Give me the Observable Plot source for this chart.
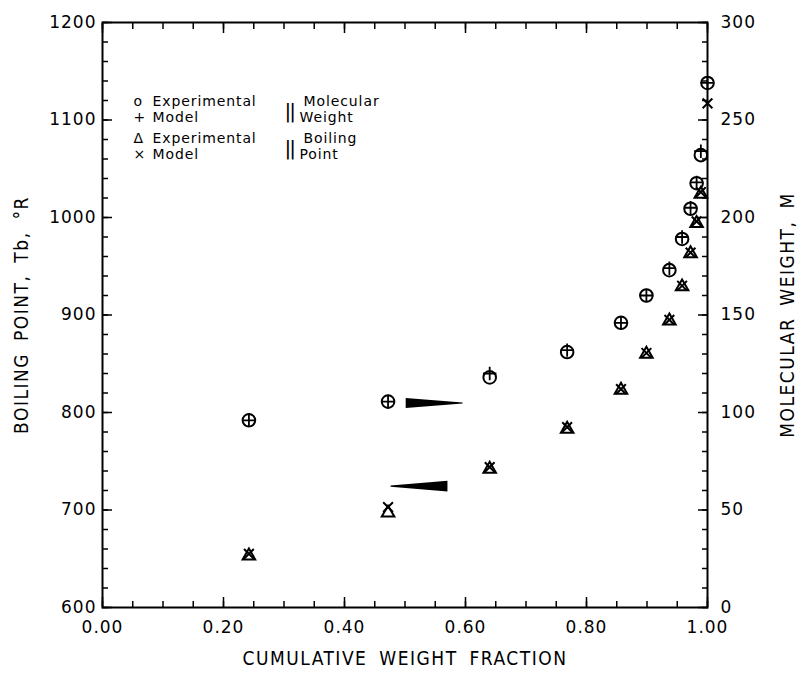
<!DOCTYPE html>
<html><head><meta charset="utf-8">
<script src="https://cdn.jsdelivr.net/npm/d3@7"></script>
<script src="https://cdn.jsdelivr.net/npm/@observablehq/plot@0.6"></script>
<style>
body{margin:0;background:#fff;}
#chart svg{font-family:"DejaVu Sans",sans-serif;color:#000;}
#chart g[aria-label$="tick label"] text{font-size:17px;letter-spacing:1px;}
#chart g[aria-label$="axis label"] text{font-family:"Liberation Sans Narrow","DejaVu Sans Condensed","DejaVu Sans",sans-serif;font-stretch:condensed;font-size:19px;letter-spacing:1.5px;word-spacing:5px;}
#chart .legend text{font-size:14px;letter-spacing:0.9px;}
#chart .bars text{font-size:20px;letter-spacing:-2px;}
</style></head><body><div id="chart"></div>
<script>
// cumulative weight fraction of each cut
const fraction = [0.242, 0.472, 0.640, 0.768, 0.857, 0.899, 0.937, 0.958, 0.972, 0.982, 0.989, 1.000];
// molecular weight (right axis)
const mwExp   = [96, 105.6, 118, 131, 146, 160, 173, 189, 204.5, 217.6, 232, 269];
const mwModel = [96, 105.6, 120, 132, 146, 160, 174, 190, 205, 218, 234, 269];
// boiling point, °R (left axis)
const bpExp   = [653, 697, 742, 783, 823, 860, 894, 929, 963, 994, 1024, null];
const bpModel = [655, 703, 744, 785, 824, 861, 895, 930, 964, 996, 1026, 1117];

const xMajor = [0, 0.2, 0.4, 0.6, 0.8, 1.0];
const xMinor = d3.range(0, 21).map(i => i / 20);
const bpMajor = [600, 700, 800, 900, 1000, 1100, 1200];
const bpMinor = d3.range(600, 1201, 20);
const mwMajor = [0, 50, 100, 150, 200, 250, 300];

// wedge arrows (annotation)
const arrowMwX = [0.502, 0.596], arrowMwY = 104.6, arrowMwHalf = [2.6, 0.3];
const arrowBpX = [0.477, 0.571], arrowBpY = 724, arrowBpHalf = [0.6, 5.6];

const legendSym = ["o", "+", "Δ", "×"];
const legendLab = ["Experimental", "Model", "Experimental", "Model"];
const legendRight = ["Molecular", "Weight", "Boiling", "Point"];

const mw2bp = m => 600 + 2 * m;   // right axis 0..300 maps onto 600..1200

const mwExpData = fraction.map((f, i) => ({x: f, y: mw2bp(mwExp[i])}));
const mwModData = fraction.map((f, i) => ({x: f, y: mw2bp(mwModel[i])}));
const bpExpData = fraction.map((f, i) => ({x: f, y: bpExp[i]})).filter(d => d.y != null);
const bpModData = fraction.map((f, i) => ({x: f, y: bpModel[i]}));
const arrowMw = arrowMwX.map((x, i) => ({x, lo: mw2bp(arrowMwY - arrowMwHalf[i]), hi: mw2bp(arrowMwY + arrowMwHalf[i])}));
const arrowBp = arrowBpX.map((x, i) => ({x, lo: arrowBpY - arrowBpHalf[i], hi: arrowBpY + arrowBpHalf[i]}));
const legendRows = [74, 89.5, 111, 126.5];
const legendRDx = [201, 197, 201, 197];

const legendMarks = legendSym.flatMap((s, i) => [
  Plot.text([s], {frameAnchor: "top-left", dx: 31, dy: legendRows[i], text: d => d, className: "legend"}),
  Plot.text([legendLab[i]], {frameAnchor: "top-left", dx: 50, dy: legendRows[i], text: d => d, textAnchor: "start", className: "legend"}),
  Plot.text([legendRight[i]], {frameAnchor: "top-left", dx: legendRDx[i], dy: legendRows[i], text: d => d, textAnchor: "start", className: "legend"})
]).concat([0, 2].map(i =>
  Plot.text(["||"], {frameAnchor: "top-left", dx: 182, dy: (legendRows[i] + legendRows[i + 1]) / 2, text: d => d, fill: "black", className: "bars"})
));

const blank = () => "";
const chart = Plot.plot({
  width: 800, height: 673,
  marginLeft: 102, marginRight: 93, marginTop: 22, marginBottom: 66,
  x: {domain: [0, 1]},
  y: {domain: [600, 1200]},
  marks: [
    Plot.axisX(xMinor, {anchor: "bottom", tickSize: -6, tickFormat: blank, strokeWidth: 1.5, label: null}),
    Plot.axisX(xMinor, {anchor: "top", tickSize: -6, tickFormat: blank, strokeWidth: 1.5, label: null}),
    Plot.axisX(xMajor, {anchor: "top", tickSize: -10, tickFormat: blank, strokeWidth: 1.5, label: null}),
    Plot.axisX(xMajor, {anchor: "bottom", tickSize: -10, tickPadding: 23, tickFormat: d => d.toFixed(2), strokeWidth: 1.5,
      label: "CUMULATIVE WEIGHT FRACTION", labelAnchor: "center", labelOffset: 57, labelArrow: "none"}),
    Plot.axisY(bpMinor, {anchor: "left", tickSize: -6, tickFormat: blank, strokeWidth: 1.5, label: null}),
    Plot.axisY(bpMinor, {anchor: "right", tickSize: -6, tickFormat: blank, strokeWidth: 1.5, label: null}),
    Plot.axisY(bpMajor, {anchor: "left", tickSize: -10, tickPadding: 16, tickFormat: d => String(d), strokeWidth: 1.5,
      label: "BOILING POINT, Tb, °R", labelAnchor: "center", labelOffset: 88, labelArrow: "none"}),
    Plot.axisY(mwMajor.map(mw2bp), {anchor: "right", tickSize: -10, tickPadding: 23, tickFormat: d => String((d - 600) / 2), strokeWidth: 1.5,
      label: "MOLECULAR WEIGHT, M", labelAnchor: "center", labelOffset: 86, labelArrow: "none"}),
    Plot.frame({stroke: "black", strokeWidth: 2}),
    Plot.areaY(arrowMw, {x: "x", y1: "lo", y2: "hi", fill: "black"}),
    Plot.areaY(arrowBp, {x: "x", y1: "lo", y2: "hi", fill: "black"}),
    Plot.dot(mwExpData, {x: "x", y: "y", symbol: "circle", r: 6.3, stroke: "black", strokeWidth: 2, fill: "none"}),
    Plot.dot(mwModData, {x: "x", y: "y", symbol: "plus", r: 4.4, stroke: "black", strokeWidth: 1.8}),
    Plot.dot(bpExpData, {x: "x", y: "y", symbol: "triangle2", r: 6.0, stroke: "black", strokeWidth: 2, fill: "none"}),
    Plot.dot(bpModData, {x: "x", y: "y", symbol: "times", r: 4.5, stroke: "black", strokeWidth: 2}),
    ...legendMarks
  ]
});
document.getElementById("chart").appendChild(chart);
</script></body></html>
